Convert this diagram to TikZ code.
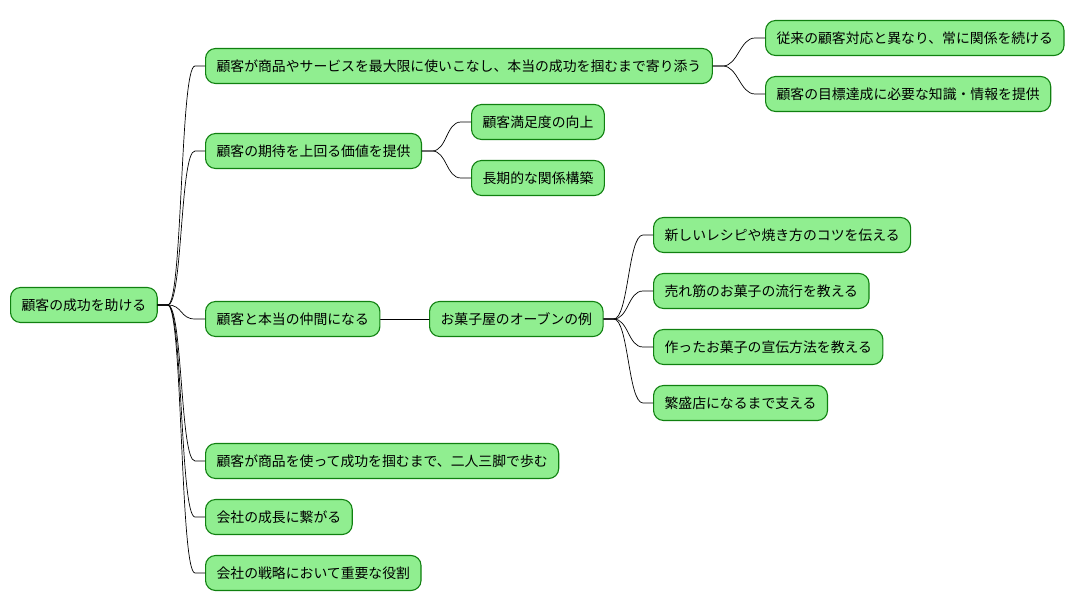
\documentclass[tikz,border=0pt]{standalone}
\usepackage{fontspec}
\setmainfont{Noto Sans CJK JP}
\usetikzlibrary{calc,positioning}
\definecolor{leaffill}{HTML}{90EE90}
\definecolor{leafdraw}{HTML}{108010}

\begin{document}
\begin{tikzpicture}[
  x=1pt,y=-1pt,
  line cap=round,
  line join=round,
  topic/.style={draw=leafdraw,fill=leaffill,line width=1.1pt,rounded corners=10pt,
    minimum height=35pt,inner xsep=11pt,inner ysep=0pt,anchor=west,
    font=\fontsize{13.85}{16}\selectfont},
  branch/.style={draw=black,line width=0.7pt,
    to path={-- ++(10,0) .. controls ($(\tikztostart)+(25,0)$) and ($(\tikztotarget)+(-25,0)$)
      .. ($(\tikztotarget)+(-10,0)$) -- (\tikztotarget)}}
]
\useasboundingbox (0,0) rectangle (1076,612);

% root
\node[topic] (root) at (10,305) {顧客の成功を助ける};

% first level
\node[topic] (stay)    at (205,66)  {顧客が商品やサービスを最大限に使いこなし、本当の成功を掴むまで寄り添う};
\node[topic] (value)   at (205,151) {顧客の期待を上回る価値を提供};
\node[topic] (partner) at (205,319) {顧客と本当の仲間になる};
\node[topic] (walk)    at (205,461) {顧客が商品を使って成功を掴むまで、二人三脚で歩む};
\node[topic] (growth)  at (205,517) {会社の成長に繋がる};
\node[topic] (role)    at (205,573) {会社の戦略において重要な役割};

% second level
\node[topic] (always)  at (765,38)  {従来の顧客対応と異なり、常に関係を続ける};
\node[topic] (know)    at (765,94)  {顧客の目標達成に必要な知識・情報を提供};
\node[topic] (satis)   at (471,122) {顧客満足度の向上};
\node[topic] (longrel) at (471,178) {長期的な関係構築};
\node[topic] (oven)    at (429,319) {お菓子屋のオーブンの例};

% third level
\node[topic] (recipe)  at (653,235) {新しいレシピや焼き方のコツを伝える};
\node[topic] (trend)   at (653,291) {売れ筋のお菓子の流行を教える};
\node[topic] (promo)   at (653,347) {作ったお菓子の宣伝方法を教える};
\node[topic] (thrive)  at (653,403) {繁盛店になるまで支える};

% connectors
\foreach \kid in {stay,value,partner,walk,growth,role}
  \draw[branch] (root.east) to (\kid.west);
\draw[branch] (stay.east) to (always.west);
\draw[branch] (stay.east) to (know.west);
\draw[branch] (value.east) to (satis.west);
\draw[branch] (value.east) to (longrel.west);
\draw[line width=0.7pt] (partner.east) -- (oven.west);
\foreach \kid in {recipe,trend,promo,thrive}
  \draw[branch] (oven.east) to (\kid.west);

\end{tikzpicture}
\end{document}
